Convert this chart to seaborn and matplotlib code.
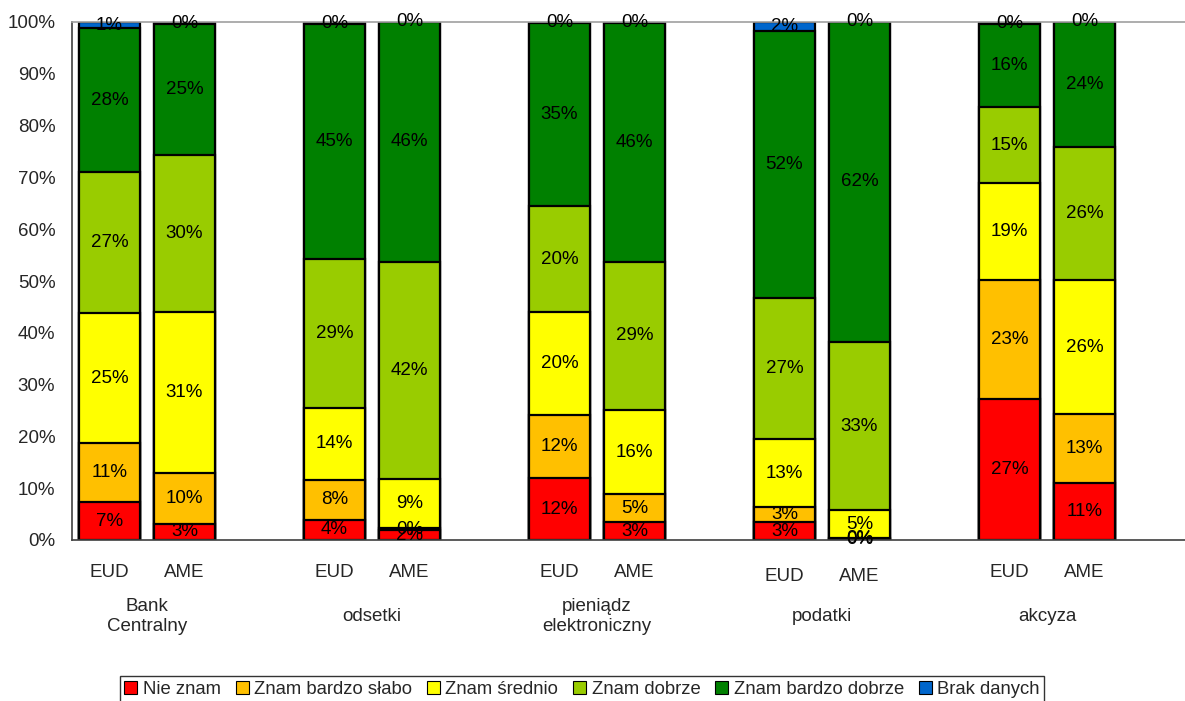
import numpy as np
import pandas as pd
import matplotlib
matplotlib.use("Agg")
import matplotlib.pyplot as plt
import matplotlib.transforms as mtransforms
from matplotlib.patches import Patch
import seaborn as sns

# survey answers, share of respondents (%)
groups = ["Bank\nCentralny", "odsetki", "pieniądz\nelektroniczny", "podatki", "akcyza"]
subgroups = ["EUD", "AME"]
answers = ["Nie znam", "Znam bardzo słabo", "Znam średnio", "Znam dobrze",
           "Znam bardzo dobrze", "Brak danych"]
colors = ["#FF0000", "#FFC000", "#FFFF00", "#99CC00", "#008000", "#0066CC"]

# one entry per bar (EUD, AME for each group)
nie_znam = [7.3, 3.1, 3.9, 1.9, 11.9, 3.4, 3.4, 0.1, 27.2, 11.0]
bardzo_slabo = [11.4, 9.8, 7.7, 0.4, 12.2, 5.4, 2.9, 0.3, 23.0, 13.3]
srednio = [25.1, 31.1, 13.9, 9.4, 19.9, 16.3, 13.2, 5.3, 18.7, 25.8]
dobrze = [27.2, 30.3, 28.7, 42.0, 20.4, 28.6, 27.2, 32.6, 14.7, 25.7]
bardzo_dobrze = [27.8, 25.3, 45.4, 46.3, 35.4, 46.1, 51.6, 61.7, 16.0, 24.2]
brak = [1.2, 0.4, 0.4, 0.0, 0.2, 0.2, 1.7, 0.0, 0.4, 0.0]

values = np.array([nie_znam, bardzo_slabo, srednio, dobrze, bardzo_dobrze, brak])
cum = values.cumsum(axis=0)

# bar slots: two bars per group, then one empty slot
pos = [3 * g + s for g in range(len(groups)) for s in range(2)]

rows = []
for k, ans in enumerate(answers):
    for j, p in enumerate(pos):
        rows.append({"answer": ans, "pos": p, "value": values[k, j],
                     "top": cum[k, j], "bottom": cum[k, j] - values[k, j]})
df = pd.DataFrame(rows)

sns.set_style("white")
plt.rcParams["font.family"] = ["Liberation Sans", "DejaVu Sans"]

fig = plt.figure(figsize=(11.85, 7.01), dpi=100)
ax = fig.add_axes([72 / 1185, 161 / 701, 1125 / 1185, 518 / 701])

# stacked bars: draw cumulative totals from the top answer down
for ans, col in reversed(list(zip(answers, colors))):
    sub = df[df["answer"] == ans]
    sns.barplot(data=sub, x="pos", y="top", native_scale=True, color=col,
                edgecolor="black", linewidth=1.6, width=0.81, errorbar=None,
                saturation=1, ax=ax)

for _, r in df.iterrows():
    ax.text(r["pos"], r["bottom"] + r["value"] / 2, f"{r['value']:.0f}%",
            ha="center", va="center", fontsize=13.5, color="black")

ax.set_xlim(-0.5, 14.5)
ax.set_ylim(0, 100)
ax.set_yticks(np.arange(0, 101, 10))
ax.set_yticklabels([f"{t}%" for t in range(0, 101, 10)], fontsize=13.5)
ax.set_xticks(np.arange(-0.5, 15, 1))
ax.set_xticklabels([])
ax.tick_params(axis="both", direction="out", length=7, width=1.2,
               color="#404040", pad=5)
ax.tick_params(axis="y", pad=5)
ax.set_xlabel("")
ax.set_ylabel("")

for side in ["left", "bottom"]:
    ax.spines[side].set_color("#404040")
    ax.spines[side].set_linewidth(1.2)
ax.spines["top"].set_color("#A0A0A0")
ax.spines["top"].set_linewidth(1.2)
ax.spines["right"].set_visible(False)

trans = mtransforms.blended_transform_factory(ax.transData, ax.transAxes)
sub_offset = [0, 0, 0, -0.008, 0]
for g, name in enumerate(groups):
    for s, lab in enumerate(subgroups):
        ax.text(3 * g + s, -0.062 + sub_offset[g], lab, transform=trans,
                ha="center", va="center", fontsize=13.5)
    ax.text(3 * g + 0.5, -0.148, name, transform=trans, ha="center",
            va="center", fontsize=13.5, linespacing=1.25)

handles = [Patch(facecolor=c, edgecolor="black", linewidth=0.8, label=a)
           for a, c in zip(answers, colors)]
leg = fig.legend(handles=handles, loc="upper center", ncol=6,
                 bbox_to_anchor=(582 / 1185, 1 - 676 / 701), fontsize=13.3,
                 frameon=True, fancybox=False, handlelength=0.7,
                 handleheight=0.7, handletextpad=0.3, columnspacing=0.8,
                 borderpad=0.25, borderaxespad=0)
leg.get_frame().set_edgecolor("black")
leg.get_frame().set_linewidth(1.0)

fig.savefig("out.png", dpi=100)
